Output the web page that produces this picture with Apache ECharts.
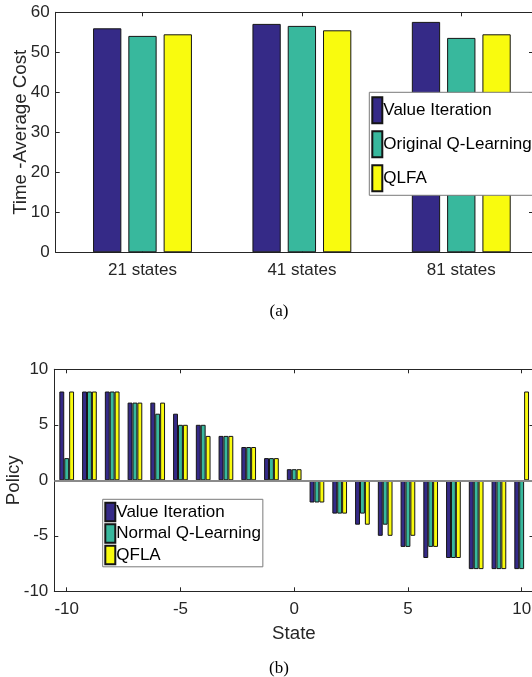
<!DOCTYPE html>
<html>
<head>
<meta charset="utf-8">
<script src="https://cdn.jsdelivr.net/npm/echarts@6/dist/echarts.min.js"></script>
<style>
  html, body { margin: 0; padding: 0; background: #fff; }
  #chart { width: 532px; height: 677px; }
</style>
</head>
<body>
<div id="chart"></div>
<script>
// (a) time-average cost per state-space size
const groupLabels = ['21 states', '41 states', '81 states'];
const groupPositions = [1, 2, 3];
const costValueIteration = [56.0, 57.1, 57.6];
const costOriginalQ = [54.1, 56.6, 53.6];
const costQLFA = [54.5, 55.5, 54.5];

// (b) policy chosen in each state
const states = [-10, -9, -8, -7, -6, -5, -4, -3, -2, -1, 0, 1, 2, 3, 4, 5, 6, 7, 8, 9, 10];
const policyValueIteration = [8, 8, 8, 7, 7, 6, 5, 4, 3, 2, 1, -2, -3, -4, -5, -6, -7, -7, -8, -8, -8];
const policyNormalQ = [2, 8, 8, 7, 6, 5, 5, 4, 3, 2, 1, -2, -3, -3, -4, -6, -6, -7, -8, -8, -8];
const policyQFLA = [8, 8, 8, 7, 7, 5, 4, 4, 3, 2, 1, -2, -3, -4, -5, -5, -6, -7, -8, -8, 8];
const stateTicks = [-10, -5, 0, 5, 10];

const colors = ['#352A87', '#38B89D', '#F9FB0E'];
const axisColor = '#262626';
const font = "'Liberation Sans', Arial, Helvetica, sans-serif";
const tickFontSize = 17;
const labelFontSize = 18.7;

const pairs = (xs, ys) => xs.map((x, i) => [x, ys[i]]);

function boxAxes(grid, kind, opts) {
  // main axis plus a mirrored axis on the opposite side carrying only the box edge and ticks
  const tick = Object.assign({ show: true, inside: true, length: 4, lineStyle: { color: axisColor } }, opts.axisTick || {});
  const common = Object.assign({}, opts, {
    type: 'value',
    gridIndex: grid,
    splitLine: { show: false },
    axisLine: { show: true, onZero: false, lineStyle: { color: axisColor, width: 1 } },
    axisTick: tick
  });
  const main = Object.assign({}, common, {
    position: kind === 'x' ? 'bottom' : 'left',
    nameMoveOverlap: false,
    axisLabel: Object.assign({ color: axisColor, fontSize: tickFontSize, fontFamily: font }, opts.axisLabel || {})
  });
  const mirror = Object.assign({}, common, {
    position: kind === 'x' ? 'top' : 'right',
    name: '',
    axisLabel: { show: false }
  });
  return [main, mirror];
}

const nameStyle = { color: axisColor, fontSize: labelFontSize, fontFamily: font };

const topX = boxAxes(0, 'x', {
  min: 0.4555, max: 3.45,
  axisTick: { customValues: groupPositions },
  axisLabel: { customValues: groupPositions, margin: 10, formatter: v => groupLabels[groupPositions.indexOf(v)] }
});
const topY = boxAxes(0, 'y', {
  min: 0, max: 60, interval: 10,
  name: 'Time -Average Cost', nameLocation: 'middle', nameGap: 25,
  nameTextStyle: nameStyle,
  axisLabel: { margin: 6 }
});
const botX = boxAxes(1, 'x', {
  min: -10.545, max: 10.52,
  name: 'State', nameLocation: 'middle', nameGap: 33,
  nameTextStyle: nameStyle,
  axisTick: { customValues: stateTicks },
  axisLabel: { customValues: stateTicks, margin: 10 }
});
const botY = boxAxes(1, 'y', {
  min: -10, max: 10, interval: 5,
  name: 'Policy', nameLocation: 'middle', nameGap: 31,
  nameTextStyle: nameStyle,
  axisLabel: { margin: 6 }
});

const barEdge = { borderColor: '#151515', borderWidth: 1 };

function topBar(name, values, idx) {
  return {
    type: 'bar', name, xAxisIndex: 0, yAxisIndex: 0,
    data: pairs(groupPositions, values),
    barWidth: 28.3, barGap: '24.7%',
    itemStyle: Object.assign({ color: colors[idx] }, barEdge),
    emphasis: { disabled: true }
  };
}
function botBar(name, values, idx) {
  return {
    type: 'bar', name, xAxisIndex: 2, yAxisIndex: 2,
    data: pairs(states, values),
    barWidth: 4.9, barGap: '0%',
    itemStyle: Object.assign({ color: colors[idx] }, barEdge),
    emphasis: { disabled: true }
  };
}

// grey zero baseline across the policy bars
const firstPolicy = botBar('Value Iteration', policyValueIteration, 0);
firstPolicy.markLine = {
  silent: true, symbol: 'none', label: { show: false },
  lineStyle: { color: '#8a8a8a', width: 2, type: 'solid' },
  data: [{ yAxis: 0 }]
};

const legendText = { color: '#000', fontSize: tickFontSize, fontFamily: font, lineHeight: 18, padding: [0, 0, 0, -4] };
const serif = "'Liberation Serif', 'Times New Roman', serif";

const option = {
  animation: false,
  backgroundColor: '#fff',
  grid: [
    { left: 55.7, right: -1, top: 12.3, height: 240, containLabel: false, outerBoundsMode: 'none' },
    { left: 54.3, right: -1.5, top: 369.3, height: 222, containLabel: false, outerBoundsMode: 'none' }
  ],
  xAxis: [topX[0], topX[1], botX[0], botX[1]],
  yAxis: [topY[0], topY[1], botY[0], botY[1]],
  title: [
    { text: '(a)', left: 279, top: 303, textAlign: 'center', padding: 0,
      textStyle: { fontFamily: serif, fontSize: 17, fontWeight: 'normal', color: '#000' } },
    { text: '(b)', left: 279, top: 660, textAlign: 'center', padding: 0,
      textStyle: { fontFamily: serif, fontSize: 17, fontWeight: 'normal', color: '#000' } }
  ],
  legend: [
    {
      orient: 'vertical', left: 369.3, top: 92.3,
      data: ['Value Iteration', 'Original Q-Learning', 'QLFA'],
      itemWidth: 10, itemHeight: 26, itemGap: 6,
      padding: [4, 20, 3, 2],
      backgroundColor: '#fff', borderColor: '#7a7a7a', borderWidth: 1, borderRadius: 0,
      icon: 'rect', selectedMode: false,
      textStyle: legendText
    },
    {
      orient: 'vertical', left: 102.7, top: 499.3,
      data: ['Value Iteration', 'Normal Q-Learning', 'QFLA'],
      itemWidth: 10, itemHeight: 18.5, itemGap: 1,
      padding: [2.5, 2, 1.5, 1.6],
      backgroundColor: '#fff', borderColor: '#7a7a7a', borderWidth: 1, borderRadius: 0,
      icon: 'rect', selectedMode: false,
      textStyle: legendText
    }
  ],
  series: [
    topBar('Value Iteration', costValueIteration, 0),
    topBar('Original Q-Learning', costOriginalQ, 1),
    topBar('QLFA', costQLFA, 2),
    firstPolicy,
    botBar('Normal Q-Learning', policyNormalQ, 1),
    botBar('QFLA', policyQFLA, 2)
  ]
};

const chart = echarts.init(document.getElementById('chart'), null, { renderer: 'canvas' });
chart.setOption(option);
</script>
</body>
</html>
